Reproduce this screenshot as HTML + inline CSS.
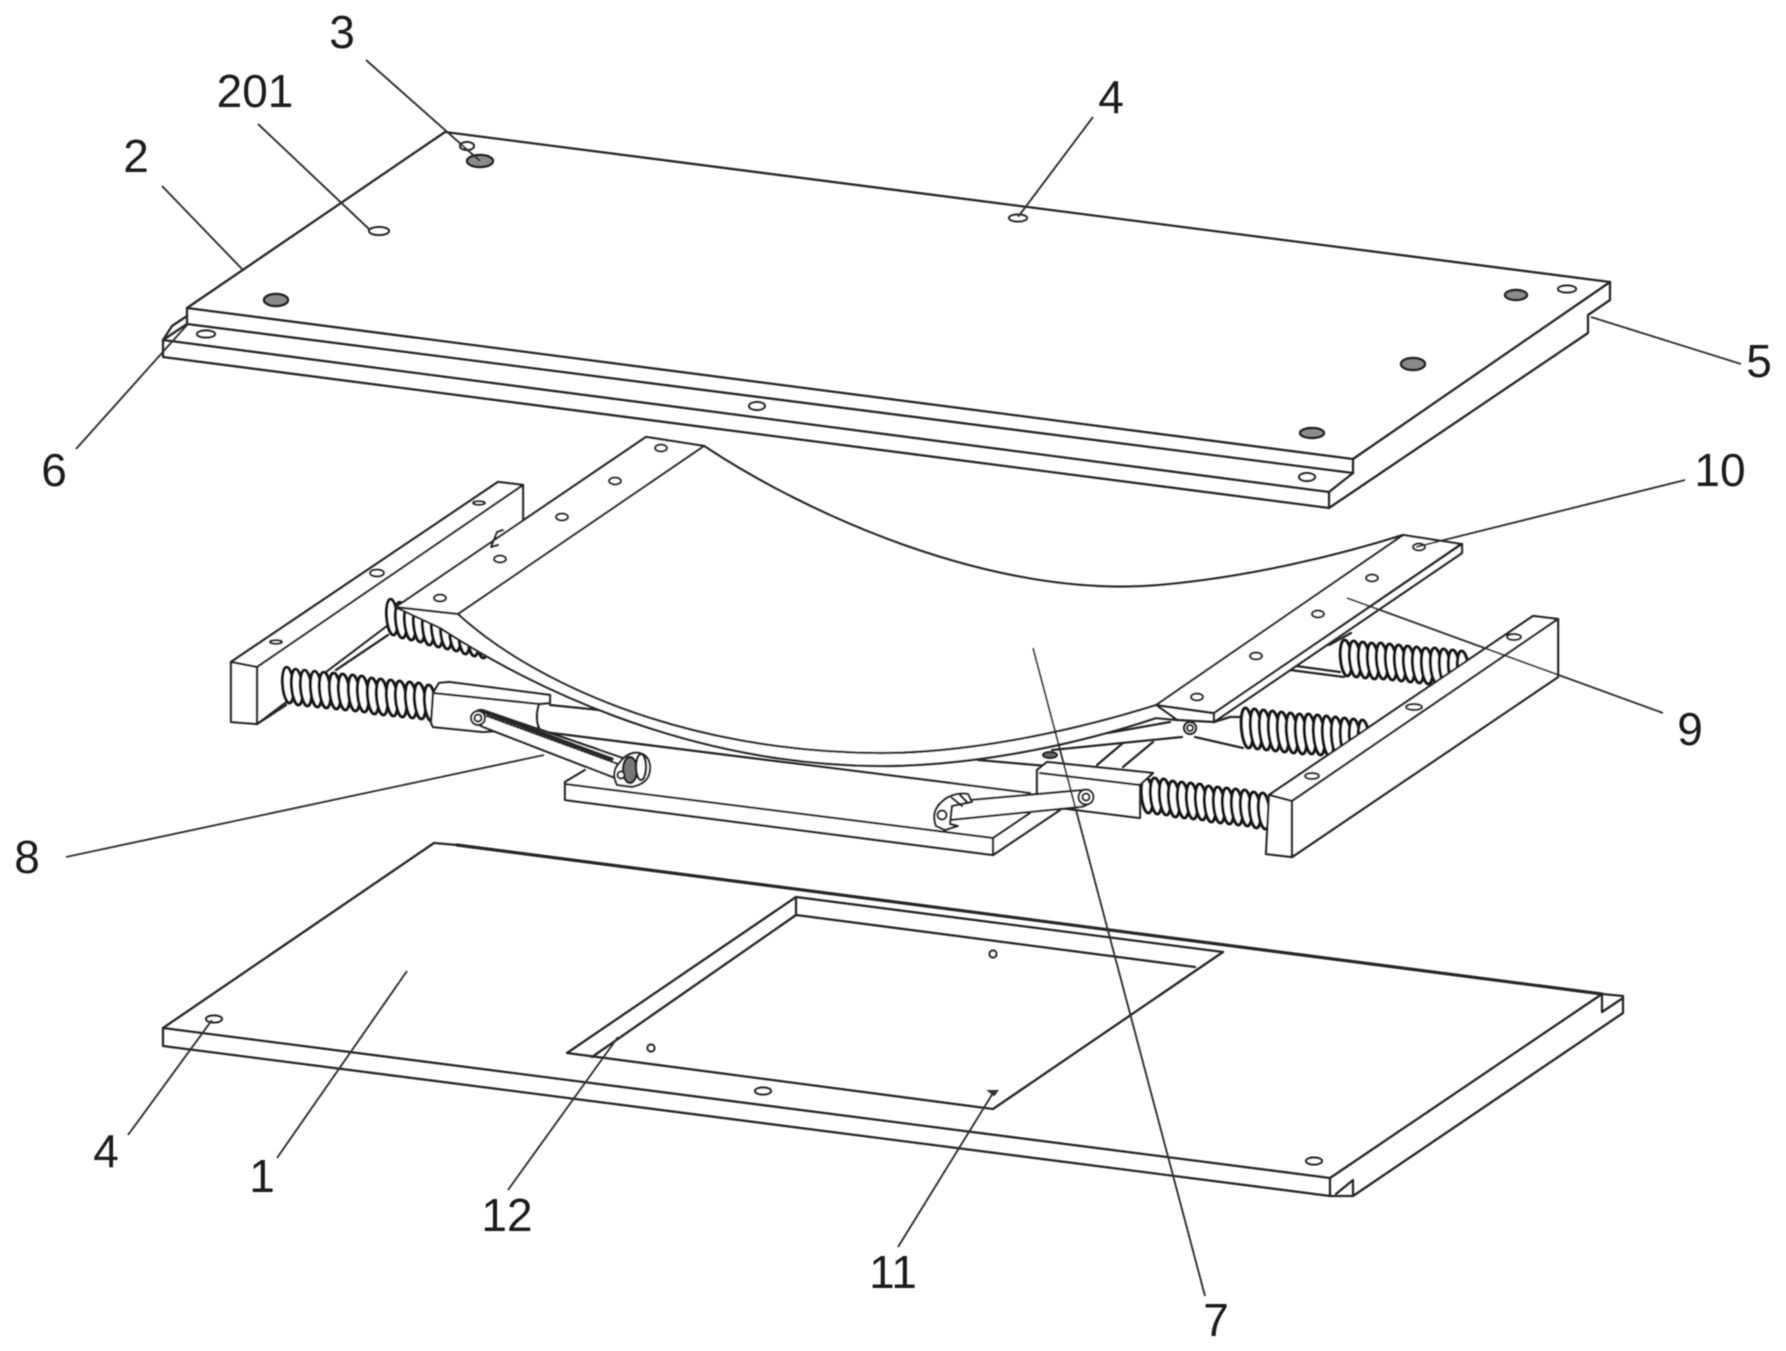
<!DOCTYPE html>
<html><head><meta charset="utf-8"><style>
html,body{margin:0;padding:0;background:#fff}
svg{display:block}
.l{fill:none;stroke:#262626;stroke-width:2.3;stroke-linejoin:round;stroke-linecap:round}
.w{fill:#fff;stroke:#262626;stroke-width:2.3;stroke-linejoin:round}
.t{fill:none;stroke:#303030;stroke-width:1.9}
.h{fill:#fff;stroke:#262626;stroke-width:2.2}
.d{fill:#8a8a8a;stroke:#222;stroke-width:2.4}
text{font-family:"Liberation Sans",sans-serif;font-size:46px;fill:#1c1c1c;text-anchor:middle}
</style></head><body>
<svg width="1786" height="1351" viewBox="0 0 1786 1351" xmlns="http://www.w3.org/2000/svg">
<defs>
<ellipse id="c" rx="5.5" ry="18" fill="#fff" stroke="#161616" stroke-width="3.2" transform="rotate(-5)"/>
<ellipse id="e" rx="5.5" ry="20" fill="#fff" stroke="#161616" stroke-width="3.2" transform="rotate(-5)"/>
<filter id="b" x="0" y="0" width="100%" height="100%"><feGaussianBlur stdDeviation="0.55"/></filter>
</defs>
<rect width="1786" height="1351" fill="#fff"/>
<g filter="url(#b)">

<!-- top plate -->
<g class="l">
<path d="M445 132L1610 282L1610 300L1588 315L1588 333L1329 508L163 357L163 340L187 324L187 308Z"/>
<path d="M187 308L1353 459L1610 282"/>
<path d="M1353 459V473L1329 492V508"/>
<path d="M187 324L1353 473"/>
<path d="M163 340L1329 492"/>
<path d="M163 340L172 326L187 316"/>
</g>
<g class="h">
<ellipse cx="467" cy="146" rx="7" ry="4"/>
<ellipse cx="379" cy="231" rx="10" ry="4"/>
<ellipse cx="206" cy="334" rx="9" ry="3.5"/>
<ellipse cx="757" cy="406" rx="8" ry="4"/>
<ellipse cx="1018" cy="218" rx="9" ry="3.5"/>
<ellipse cx="1567" cy="289" rx="9" ry="3.5"/>
<ellipse cx="1307" cy="477" rx="8" ry="4"/>
</g>
<g class="d">
<ellipse cx="480" cy="161" rx="13" ry="6"/>
<ellipse cx="276" cy="300" rx="12" ry="6"/>
<ellipse cx="1516" cy="295" rx="11" ry="5"/>
<ellipse cx="1413" cy="364" rx="12" ry="6"/>
<ellipse cx="1312" cy="433" rx="12" ry="5"/>
</g>

<!-- left block -->
<g class="l">
<path class="w" d="M498 482L523 485V523L257 724V667ZM231 662L498 482"/>
<path d="M231 662L498 482L523 485L257 667Z" fill="#fff"/>
<path d="M231 662L257 667V724L231 722Z" fill="#fff"/>
<path d="M257 724L286 705M336 670L388 635"/>
</g>
<g class="h"><ellipse cx="479" cy="503" rx="6" ry="1.8"/><ellipse cx="377" cy="573" rx="7" ry="3.5"/><ellipse cx="276" cy="642" rx="6" ry="1.8"/></g>

<!-- left upper spring -->
<use href="#c" x="392" y="617"/><use href="#c" x="401" y="620"/><use href="#c" x="410" y="622"/><use href="#c" x="419" y="624"/><use href="#c" x="428" y="627"/><use href="#c" x="437" y="629"/><use href="#c" x="446" y="631"/><use href="#c" x="455" y="633"/><use href="#c" x="464" y="636"/><use href="#c" x="473" y="638"/><use href="#c" x="482" y="640"/>

<!-- base plate -->
<path d="M585 770L565 782V800L993 855L1060 810L1030 790L600 745Z" fill="#fff"/>
<g class="l">
<path d="M585 770L565 782V800L993 855L1060 810"/>
<path d="M565 784L993 838L1030 813"/>
<path d="M993 838V855"/>
<path d="M1097 765L1123 743M1123 767L1153 742"/>
</g>

<!-- long bars -->
<g class="l">
<path d="M550 705L629 713"/>
<path d="M544 732L1030 793"/>
<path d="M978 760L1151 775"/>
</g>

<!-- left lower spring -->
<use href="#c" x="288" y="685"/><use href="#c" x="297" y="687"/><use href="#c" x="306" y="688"/><use href="#c" x="316" y="689"/><use href="#c" x="325" y="690"/><use href="#c" x="335" y="691"/><use href="#c" x="344" y="692"/><use href="#c" x="354" y="693"/><use href="#c" x="363" y="694"/><use href="#c" x="373" y="696"/><use href="#c" x="382" y="697"/><use href="#c" x="392" y="698"/><use href="#c" x="401" y="699"/><use href="#c" x="411" y="700"/><use href="#c" x="420" y="701"/><use href="#c" x="430" y="703"/>

<!-- left slider -->
<g class="l">
<path class="w" d="M433 693L439 683L449 682L550 695L550 703L539 704C536 712 536 722 539 728L483 732L433 727L431 723Z"/>
<path d="M433 693L539 704"/>
</g>

<!-- right upper spring + slider -->
<g class="l"><path d="M1290 670L1344 677M1296 666L1340 672"/><path d="M1329 645L1351 633"/></g>
<use href="#c" x="1346" y="658"/><use href="#c" x="1355" y="659"/><use href="#c" x="1364" y="660"/><use href="#c" x="1373" y="661"/><use href="#c" x="1382" y="661"/><use href="#c" x="1391" y="662"/><use href="#c" x="1400" y="663"/><use href="#c" x="1409" y="664"/><use href="#c" x="1418" y="665"/><use href="#c" x="1427" y="666"/><use href="#c" x="1436" y="666"/><use href="#c" x="1445" y="667"/><use href="#c" x="1454" y="668"/><use href="#c" x="1463" y="669"/>

<!-- right mid spring + slider -->
<g class="l"><path d="M1195 737L1243 748M1214 722L1230 717H1243"/></g>
<use href="#e" x="1247" y="728"/><use href="#e" x="1256" y="729"/><use href="#e" x="1265" y="730"/><use href="#e" x="1274" y="731"/><use href="#e" x="1283" y="732"/><use href="#e" x="1292" y="733"/><use href="#e" x="1301" y="734"/><use href="#e" x="1310" y="734"/><use href="#e" x="1319" y="735"/><use href="#e" x="1328" y="736"/><use href="#e" x="1337" y="737"/><use href="#e" x="1346" y="738"/><use href="#e" x="1355" y="739"/><use href="#e" x="1364" y="740"/>

<!-- right lower spring -->
<use href="#c" x="1147" y="795"/><use href="#c" x="1156" y="796"/><use href="#c" x="1165" y="797"/><use href="#c" x="1174" y="799"/><use href="#c" x="1183" y="800"/><use href="#c" x="1192" y="801"/><use href="#c" x="1201" y="802"/><use href="#c" x="1210" y="804"/><use href="#c" x="1219" y="805"/><use href="#c" x="1228" y="806"/><use href="#c" x="1237" y="807"/><use href="#c" x="1246" y="808"/><use href="#c" x="1255" y="810"/><use href="#c" x="1264" y="811"/>

<!-- right block -->
<g class="l">
<path d="M1269 795L1533 616L1558 619L1292 801Z" fill="#fff"/>
<path d="M1269 795L1292 801V857L1266 854Z" fill="#fff"/>
<path d="M1292 857L1558 677V619" />
<path d="M1292 801L1558 619L1558 677L1292 857Z" fill="#fff"/>
</g>
<g class="h"><ellipse cx="1514" cy="637" rx="7" ry="3"/><ellipse cx="1414" cy="707" rx="8" ry="3"/><ellipse cx="1312" cy="776" rx="7" ry="3"/></g>

<!-- curved sheet -->
<path class="w" d="M458 614C530 680 680 752 880 753C960 753 1060 735 1156 705L1177 720L1156 718C1060 750 960 766 880 766C680 765 520 680 440 628L395 607Z"/>
<path class="w" d="M646 437L704 446C800 510 990 600 1160 585C1250 577 1340 555 1403 535L1461 544L1214 713L1156 705C1060 735 960 753 880 753C680 752 530 680 458 614L395 607L403 602Z" />
<g class="l">
<path d="M704 446L458 614"/>
<path d="M1403 535L1156 705"/>
<path d="M1214 713L1462 544V553L1214 722Z" fill="#fff"/>
<path d="M1156 705L1214 713"/>
<path d="M1177 720L1214 722"/>
<path d="M491 547L497 532L503 530M491 547L498 545"/>
</g>
<g class="h">
<ellipse cx="661" cy="448" rx="6" ry="3.5"/><ellipse cx="615" cy="481" rx="6" ry="3.5"/><ellipse cx="562" cy="517" rx="6" ry="3.5"/><ellipse cx="500" cy="559" rx="6" ry="3.5"/><ellipse cx="440" cy="598" rx="6" ry="3.5"/>
<ellipse cx="1419" cy="547" rx="6" ry="3.5"/><ellipse cx="1372" cy="578" rx="6" ry="3.5"/><ellipse cx="1318" cy="614" rx="6" ry="3.5"/><ellipse cx="1256" cy="656" rx="6" ry="3.5"/><ellipse cx="1197" cy="697" rx="6" ry="3.5"/>
</g>

<!-- right mid link -->
<g class="l">
<path d="M1052 750L1182 737M1108 733L1170 722"/>
</g>
<circle class="h" cx="1190" cy="728" r="6"/>
<circle class="h" cx="1190" cy="728" r="3"/>

<!-- right lower slider + link -->
<g class="l">
<path class="w" d="M1037 770L1047 762L1153 773L1140 785V818L1060 808L1037 795Z"/>
<path d="M1040 773L1140 785"/>
</g>
<ellipse cx="1050" cy="755" rx="7" ry="3" fill="#666" stroke="#222" stroke-width="2"/>
<g class="l">
<path class="w" d="M970 800L1083 790C1094 790 1094 806 1080 807L950 820L938 805Z"/>
<path class="w" d="M938 806C945 796 958 792 968 794L972 802L952 806L950 824L958 826L945 830L936 826C933 818 934 811 938 806Z"/>
<path d="M952 798L962 806M960 795L968 803"/>
</g>
<circle class="h" cx="942" cy="815" r="4.5"/>
<circle class="h" cx="1086" cy="797" r="7.5"/><circle class="h" cx="1086" cy="797" r="3.5"/>

<!-- left link -->
<g class="l">
<path class="w" d="M483 710L623 758L615 778L483 727C470 722 472 708 483 710Z"/>
<path d="M484 712L612 759" stroke-width="3.5"/>
<path d="M487 716L618 764" stroke-dasharray="2 2"/>
</g>
<circle class="h" cx="478" cy="718" r="7"/><circle class="h" cx="478" cy="718" r="3.5"/>
<path class="w" d="M620 762C630 748 648 750 650 765C651 778 645 784 632 787L617 785C612 775 614 768 620 762Z"/>
<ellipse cx="630" cy="770" rx="7" ry="13" fill="#777" stroke="#222" stroke-width="2.4"/>
<ellipse cx="641" cy="767" rx="5" ry="13" fill="#fff" stroke="#222" stroke-width="2.4"/>
<circle class="h" cx="621" cy="775" r="3.5"/>

<!-- bottom plate -->
<g class="l">
<path d="M434 843L457 845"/>
<path d="M457 845L1602 994" stroke-width="3.2"/>
<path d="M1602 994L1623 996V1013L1353 1196H1330L163 1046V1028L434 843"/>
<path d="M163 1028L1330 1178L1602 994"/>
<path d="M1330 1178V1196"/>
<path d="M1602 994V1012L1623 998"/>
<path d="M1353 1196V1180L1336 1194"/>
<path d="M796 897L567 1053L993 1109L1223 952Z"/>
<path d="M796 897V915L592 1057"/>
<path d="M796 915L1195 967"/>
</g>
<g class="h">
<ellipse cx="214" cy="1019" rx="8" ry="3.5"/>
<ellipse cx="763" cy="1091" rx="8" ry="3.5"/>
<ellipse cx="1314" cy="1161" rx="8" ry="3.5"/>
<circle cx="651" cy="1048" r="3.5"/><circle cx="993" cy="954" r="3.5"/>
</g>
<path d="M989 1091H997L994 1095Z" fill="#333" stroke="#333" stroke-width="2"/>

<!-- leaders -->
<g class="t">
<path d="M366 60L480 161"/>
<path d="M258 124L370 230"/>
<path d="M162 186L242 269"/>
<path d="M76 449L187 325"/>
<path d="M1093 117L1018 217"/>
<path d="M1591 317L1741 364"/>
<path d="M1685 480L1416 547"/>
<path d="M1347 598L1663 713"/>
<path d="M1033 648L1205 1296"/>
<path d="M66 857L544 755"/>
<path d="M128 1135L212 1020"/>
<path d="M277 1158L407 971"/>
<path d="M508 1190L618 1037"/>
<path d="M898 1247L993 1093"/>
</g>

<!-- labels -->
<text x="342" y="48">3</text>
<text x="255" y="107">201</text>
<text x="136" y="172">2</text>
<text x="54" y="486">6</text>
<text x="1111" y="113">4</text>
<text x="1759" y="377">5</text>
<text x="1720" y="486">10</text>
<text x="1690" y="745">9</text>
<text x="27" y="873">8</text>
<text x="106" y="1167">4</text>
<text x="262" y="1192">1</text>
<text x="507" y="1231">12</text>
<text x="893" y="1288">11</text>
<text x="1216" y="1336">7</text>
</g>
</svg>
</body></html>
